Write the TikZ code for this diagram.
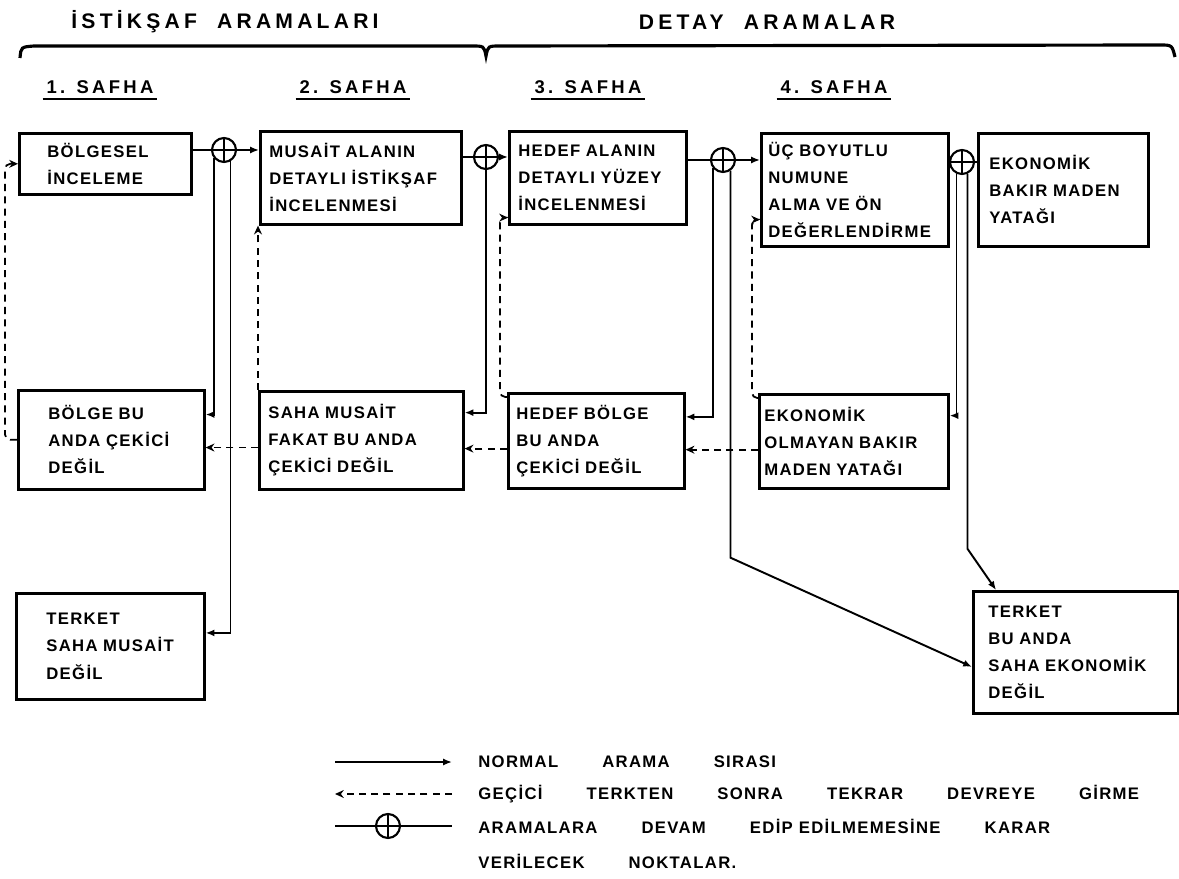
\documentclass[tikz,border=0pt]{standalone}
\usepackage{fontspec}
\usepackage{tikz}
\usetikzlibrary{positioning, arrows.meta, calc}

\newfontfamily\boxfont{Liberation Sans}[LetterSpace=8, WordSpace=3]
\newfontfamily\legfont{Liberation Sans}[LetterSpace=8]
\newfontfamily\headfont{Liberation Sans}[LetterSpace=20, WordSpace=2]
\newfontfamily\safhafont{Liberation Sans}[LetterSpace=18]
\newcommand\lgap{\hspace{0.88cm}}

\tikzset{
  stagebox/.style n args={3}{draw, line width=1.5pt, anchor=north west,
    font=\boxfont\bfseries\fontsize{9.5}{15.4}\selectfont, align=left,
    inner ysep=0pt, inner xsep=#3*0.2mm, text width=(#1-2*#3)*0.2mm,
    minimum width=#1*0.2mm, minimum height=#2*0.2mm},
  junct/.style={draw, circle, line width=1.2pt, minimum size=4.8mm, inner sep=0pt,
    path picture={\draw[line width=1pt]
      (path picture bounding box.north) -- (path picture bounding box.south)
      (path picture bounding box.west) -- (path picture bounding box.east);}},
  flow/.style={line width=1.1pt},
  flowto/.style={flow, -{Latex[length=5pt,width=4pt]}},
  back/.style={line width=1pt, dash pattern=on 4pt off 3pt, rounded corners=3pt,
    -{Stealth[length=5pt,width=4.5pt]}},
  headtxt/.style={font=\headfont\bfseries\fontsize{12}{14}\selectfont, inner sep=1pt},
  safha/.style={font=\safhafont\bfseries\fontsize{10.5}{12}\selectfont, inner xsep=2pt, inner ysep=3pt},
  uline/.style={line width=1.5pt},
  bracket/.style={line width=1.8pt},
  legtxt/.style={font=\legfont\bfseries\fontsize{9.5}{12}\selectfont, anchor=west, inner sep=0pt},
}

\begin{document}
\begin{tikzpicture}[x=0.2mm, y=-0.2mm]
  \useasboundingbox (0,0) rectangle (1179,879);

  %% Headings over the two search groups
  \node[headtxt] (istiksaf) at (225,22) {İSTİKŞAF ARAMALARI};
  \node[headtxt] (detay) at (767,22) {DETAY ARAMALAR};
  \draw[bracket] (20,58) .. controls (21,47) .. (34,46) -- (472,46)
    .. controls (484,46) .. (486,56) .. controls (488,46) .. (500,46)
    -- (1160,45) .. controls (1172,45) .. (1175,57);

  %% Stage titles (underlined)
  \foreach \nm/\cx/\lbl in {s1/100/1. SAFHA, s2/353/2. SAFHA,
                            s3/588/3. SAFHA, s4/834/4. SAFHA}{
    \node[safha] (\nm) at (\cx,87) {\lbl};
    \draw[uline] (\nm.south west) -- (\nm.south east);
  }

  %% Top row: normal sequence
  \node[stagebox={172}{61}{28}] (bolgesel) at (18,132) {BÖLGESEL\\İNCELEME};
  \node[stagebox={201}{93}{9}]  (musait)   at (259,130) {MUSAİT ALANIN\\DETAYLI İSTİKŞAF\\İNCELENMESİ};
  \node[stagebox={177}{93}{9}]  (hedef)    at (508,130) {HEDEF ALANIN\\DETAYLI YÜZEY\\İNCELENMESİ};
  \node[stagebox={187}{113}{7}] (ucboyut)  at (760,132) {ÜÇ BOYUTLU\\NUMUNE\\ALMA VE ÖN\\DEĞERLENDİRME};
  \node[stagebox={170}{113}{11}] (bakir)   at (977,132) {EKONOMİK\\BAKIR MADEN\\YATAĞI};

  %% Middle row: temporarily dropped
  \node[stagebox={186}{99}{30}] (bolgeNo)  at (17,389)  {BÖLGE BU\\ANDA ÇEKİCİ\\DEĞİL};
  \node[stagebox={204}{98}{9}]  (sahaNo)   at (258,390) {SAHA MUSAİT\\FAKAT BU ANDA\\ÇEKİCİ DEĞİL};
  \node[stagebox={176}{95}{8}]  (hedefNo)  at (507,392) {HEDEF BÖLGE\\BU ANDA\\ÇEKİCİ DEĞİL};
  \node[stagebox={189}{94}{5}]  (bakirNo)  at (758,393) {EKONOMİK\\OLMAYAN BAKIR\\MADEN YATAĞI};

  %% Bottom row: abandon
  \node[stagebox={188}{106}{30}] (terkSaha) at (15,592)  {TERKET\\SAHA MUSAİT\\DEĞİL};
  \node[stagebox={205}{122}{15}] (terkEkon) at (972,590) {TERKET\\BU ANDA\\SAHA EKONOMİK\\DEĞİL};

  %% Decision points
  \node[junct] (dec1) at (224,150) {};
  \node[junct] (dec2) at (486,157) {};
  \node[junct] (dec3) at (723,160) {};
  \node[junct] (dec4) at (962,162) {};

  %% Normal search order
  \draw[flow]   (dec1.west -| bolgesel.east) -- (dec1.west);
  \draw[flowto] (dec1.east) -- (dec1.east -| musait.west);
  \draw[flow]   (dec2.west -| musait.east) -- (dec2.west);
  \draw[flowto] (dec2.east) -- (dec2.east -| hedef.west);
  \draw[flow]   (dec3.west -| hedef.east) -- (dec3.west);
  \draw[flowto] (dec3.east) -- (dec3.east -| ucboyut.west);
  \draw[flow]   (dec4.west -| ucboyut.east) -- (dec4.west);
  \draw[flow]   (dec4.east) -- (dec4.east -| bakir.west);

  \draw[flowto] (dec1.-140) |- (bolgeNo.15);
  \draw[flowto] (dec1.-60) |- (terkSaha.8);
  \draw[flowto] (dec2.south) |- (sahaNo.15);
  \draw[flowto] (dec3.-140) |- (hedefNo.15);
  \draw[flowto] (dec3.-55) -- ++(0,387) -- (terkEkon.188);
  \draw[flowto] (dec4.-115) |- (bakirNo.15);
  \draw[flowto] (dec4.-65) -- ++(0,375) -- (terkEkon.142);

  %% Re-entry after temporary drop
  \draw[back] (bolgeNo.west) -- ++(-12,0) |- (bolgesel.west);
  \draw[back] (sahaNo.north west) -- (sahaNo.north west |- musait.south);
  \draw[back] ([yshift=-1mm]hedefNo.north west) -- ++(-7,0) |- ([yshift=1.6mm]hedef.south west);
  \draw[back] ([yshift=-1mm]bakirNo.north west) -- ++(-6,0) |- ([yshift=5.6mm]ucboyut.south west);
  \draw[back] (sahaNo.184) -- (sahaNo.184 -| bolgeNo.east);
  \draw[back] (hedefNo.185) -- (hedefNo.185 -| sahaNo.east);
  \draw[back] (bakirNo.185) -- (bakirNo.185 -| hedefNo.east);

  %% Legend
  \coordinate (lgA1) at (335,762); \coordinate (lgA2) at (452,762);
  \coordinate (lgB1) at (335,794); \coordinate (lgB2) at (452,794);
  \coordinate (lgC1) at (335,826); \coordinate (lgC2) at (452,826);
  \node[junct] (lgdec) at (388,826) {};
  \draw[flowto] (lgA1) -- (lgA2);
  \draw[back] (lgB2) -- (lgB1);
  \draw[flow] (lgC1) -- (lgdec.west) (lgdec.east) -- (lgC2);

  \node[legtxt] (lg1) at (478,762) {NORMAL\lgap ARAMA\lgap SIRASI};
  \node[legtxt] (lg2) at (478,794) {GEÇİCİ\lgap TERKTEN\lgap SONRA\lgap TEKRAR\lgap DEVREYE\lgap GİRME};
  \node[legtxt] (lg3) at (478,826) {ARAMALARA\lgap DEVAM\lgap EDİP EDİLMEMESİNE\lgap KARAR};
  \node[legtxt] (lg4) at (478,861) {VERİLECEK\lgap NOKTALAR.};

\end{tikzpicture}
\end{document}
